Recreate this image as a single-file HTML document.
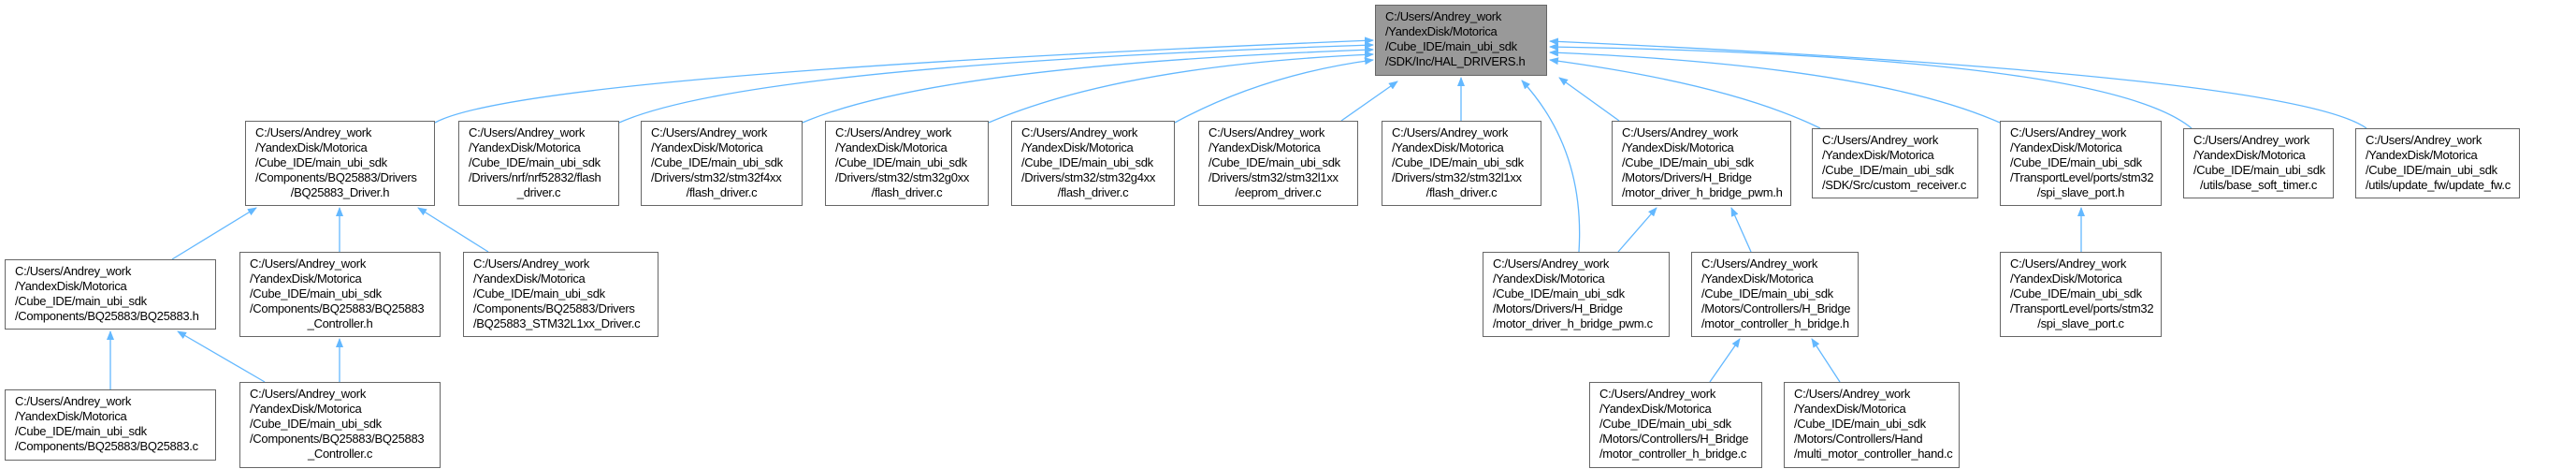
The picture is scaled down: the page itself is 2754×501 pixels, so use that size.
<!DOCTYPE html>
<html><head><meta charset="utf-8"><style>
body{margin:0;width:2754px;height:501px;background:#fff;position:relative;overflow:hidden;font-family:"Liberation Sans",sans-serif}
.b{position:absolute;box-sizing:border-box;border:1px solid #666;background:#fff;font-size:13px;line-height:16px;padding:4px 0 0 10px;color:#000;white-space:nowrap;letter-spacing:-0.3px}
.b div:last-child{text-align:center;padding-right:10px}
.b.l div:last-child{text-align:left}
svg{position:absolute;left:0;top:0}
</style></head><body>
<svg width="2754" height="501">
<defs><marker id="a" markerWidth="10" markerHeight="8" refX="9" refY="4" orient="auto" markerUnits="userSpaceOnUse"><path d="M0,0 L10,4 L0,8 z" fill="#63b8ff"/></marker></defs>
<g fill="none" stroke="#63b8ff" stroke-width="1.3" marker-end="url(#a)">
<path d="M465,131 Q560,80 1468,43"/>
<path d="M662,131 Q800,70 1468,48"/>
<path d="M858,131 Q1000,70 1468,53"/>
<path d="M1057,131 Q1200,70 1468,58"/>
<path d="M1256,131 Q1350,80 1468,64"/>
<path d="M1434,129 L1494,87"/>
<path d="M1562,129 L1562,83"/>
<path d="M1688,269 Q1695,160 1627,86"/>
<path d="M1731,129 L1667,83"/>
<path d="M1946,137 Q1850,90 1657,64"/>
<path d="M2138,131 Q2000,70 1657,56"/>
<path d="M2343,137 Q2250,60 1657,50"/>
<path d="M2530,137 Q2450,80 1657,44"/>
<path d="M184,277 L274,222"/>
<path d="M363,269 L363,222"/>
<path d="M522,269 L447,222"/>
<path d="M118,416 L118,354"/>
<path d="M283,408 L190,354"/>
<path d="M363,408 L363,362"/>
<path d="M1730,269 L1771,222"/>
<path d="M1872,269 L1851,222"/>
<path d="M1828,408 L1860,362"/>
<path d="M1967,408 L1937,362"/>
<path d="M2225,269 L2225,222"/>
</g></svg>

<div class="b" style="left:1470px;top:5px;width:184px;height:76px;background:#999"><div>C:/Users/Andrey_work</div><div>/YandexDisk/Motorica</div><div>/Cube_IDE/main_ubi_sdk</div><div style="text-align:left">/SDK/Inc/HAL_DRIVERS.h</div></div>

<div class="b" style="left:262px;top:129px;width:203px;height:91px"><div>C:/Users/Andrey_work</div><div>/YandexDisk/Motorica</div><div>/Cube_IDE/main_ubi_sdk</div><div>/Components/BQ25883/Drivers</div><div>/BQ25883_Driver.h</div></div>
<div class="b" style="left:490px;top:129px;width:172px;height:91px"><div>C:/Users/Andrey_work</div><div>/YandexDisk/Motorica</div><div>/Cube_IDE/main_ubi_sdk</div><div>/Drivers/nrf/nrf52832/flash</div><div>_driver.c</div></div>
<div class="b" style="left:685px;top:129px;width:173px;height:91px"><div>C:/Users/Andrey_work</div><div>/YandexDisk/Motorica</div><div>/Cube_IDE/main_ubi_sdk</div><div>/Drivers/stm32/stm32f4xx</div><div>/flash_driver.c</div></div>
<div class="b" style="left:882px;top:129px;width:175px;height:91px"><div>C:/Users/Andrey_work</div><div>/YandexDisk/Motorica</div><div>/Cube_IDE/main_ubi_sdk</div><div>/Drivers/stm32/stm32g0xx</div><div>/flash_driver.c</div></div>
<div class="b" style="left:1081px;top:129px;width:175px;height:91px"><div>C:/Users/Andrey_work</div><div>/YandexDisk/Motorica</div><div>/Cube_IDE/main_ubi_sdk</div><div>/Drivers/stm32/stm32g4xx</div><div>/flash_driver.c</div></div>
<div class="b" style="left:1281px;top:129px;width:171px;height:91px"><div>C:/Users/Andrey_work</div><div>/YandexDisk/Motorica</div><div>/Cube_IDE/main_ubi_sdk</div><div>/Drivers/stm32/stm32l1xx</div><div>/eeprom_driver.c</div></div>
<div class="b" style="left:1477px;top:129px;width:171px;height:91px"><div>C:/Users/Andrey_work</div><div>/YandexDisk/Motorica</div><div>/Cube_IDE/main_ubi_sdk</div><div>/Drivers/stm32/stm32l1xx</div><div>/flash_driver.c</div></div>
<div class="b l" style="left:1723px;top:129px;width:192px;height:91px"><div>C:/Users/Andrey_work</div><div>/YandexDisk/Motorica</div><div>/Cube_IDE/main_ubi_sdk</div><div>/Motors/Drivers/H_Bridge</div><div>/motor_driver_h_bridge_pwm.h</div></div>
<div class="b l" style="left:1937px;top:137px;width:178px;height:75px"><div>C:/Users/Andrey_work</div><div>/YandexDisk/Motorica</div><div>/Cube_IDE/main_ubi_sdk</div><div>/SDK/Src/custom_receiver.c</div></div>
<div class="b" style="left:2138px;top:129px;width:173px;height:91px"><div>C:/Users/Andrey_work</div><div>/YandexDisk/Motorica</div><div>/Cube_IDE/main_ubi_sdk</div><div>/TransportLevel/ports/stm32</div><div>/spi_slave_port.h</div></div>
<div class="b" style="left:2334px;top:137px;width:161px;height:75px"><div>C:/Users/Andrey_work</div><div>/YandexDisk/Motorica</div><div>/Cube_IDE/main_ubi_sdk</div><div>/utils/base_soft_timer.c</div></div>
<div class="b l" style="left:2518px;top:137px;width:176px;height:75px"><div>C:/Users/Andrey_work</div><div>/YandexDisk/Motorica</div><div>/Cube_IDE/main_ubi_sdk</div><div>/utils/update_fw/update_fw.c</div></div>

<div class="b l" style="left:5px;top:277px;width:226px;height:75px"><div>C:/Users/Andrey_work</div><div>/YandexDisk/Motorica</div><div>/Cube_IDE/main_ubi_sdk</div><div>/Components/BQ25883/BQ25883.h</div></div>
<div class="b" style="left:256px;top:269px;width:215px;height:91px"><div>C:/Users/Andrey_work</div><div>/YandexDisk/Motorica</div><div>/Cube_IDE/main_ubi_sdk</div><div>/Components/BQ25883/BQ25883</div><div>_Controller.h</div></div>
<div class="b l" style="left:495px;top:269px;width:209px;height:91px"><div>C:/Users/Andrey_work</div><div>/YandexDisk/Motorica</div><div>/Cube_IDE/main_ubi_sdk</div><div>/Components/BQ25883/Drivers</div><div>/BQ25883_STM32L1xx_Driver.c</div></div>
<div class="b l" style="left:1585px;top:269px;width:200px;height:91px"><div>C:/Users/Andrey_work</div><div>/YandexDisk/Motorica</div><div>/Cube_IDE/main_ubi_sdk</div><div>/Motors/Drivers/H_Bridge</div><div>/motor_driver_h_bridge_pwm.c</div></div>
<div class="b l" style="left:1808px;top:269px;width:179px;height:91px"><div>C:/Users/Andrey_work</div><div>/YandexDisk/Motorica</div><div>/Cube_IDE/main_ubi_sdk</div><div>/Motors/Controllers/H_Bridge</div><div>/motor_controller_h_bridge.h</div></div>
<div class="b" style="left:2138px;top:269px;width:173px;height:91px"><div>C:/Users/Andrey_work</div><div>/YandexDisk/Motorica</div><div>/Cube_IDE/main_ubi_sdk</div><div>/TransportLevel/ports/stm32</div><div>/spi_slave_port.c</div></div>

<div class="b l" style="left:5px;top:416px;width:226px;height:76px"><div>C:/Users/Andrey_work</div><div>/YandexDisk/Motorica</div><div>/Cube_IDE/main_ubi_sdk</div><div>/Components/BQ25883/BQ25883.c</div></div>
<div class="b" style="left:256px;top:408px;width:215px;height:92px"><div>C:/Users/Andrey_work</div><div>/YandexDisk/Motorica</div><div>/Cube_IDE/main_ubi_sdk</div><div>/Components/BQ25883/BQ25883</div><div>_Controller.c</div></div>
<div class="b l" style="left:1699px;top:408px;width:185px;height:92px"><div>C:/Users/Andrey_work</div><div>/YandexDisk/Motorica</div><div>/Cube_IDE/main_ubi_sdk</div><div>/Motors/Controllers/H_Bridge</div><div>/motor_controller_h_bridge.c</div></div>
<div class="b l" style="left:1907px;top:408px;width:188px;height:92px"><div>C:/Users/Andrey_work</div><div>/YandexDisk/Motorica</div><div>/Cube_IDE/main_ubi_sdk</div><div>/Motors/Controllers/Hand</div><div>/multi_motor_controller_hand.c</div></div>
</body></html>
